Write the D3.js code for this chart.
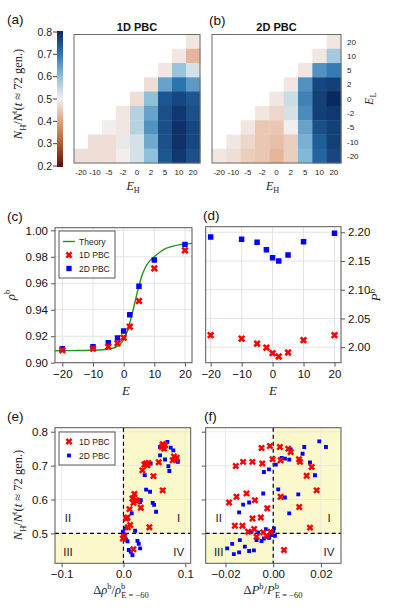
<!DOCTYPE html>
<html><head><meta charset="utf-8">
<script src="https://cdn.jsdelivr.net/npm/d3@7"></script>
<style>body{margin:0;background:#fff}svg{display:block}</style>
</head><body><svg id="c" width="397" height="609"></svg>
<script>
// ---------------- data ----------------
const EH = [-20,-10,-5,-2,0,2,5,10,20];
const EL = [20,10,5,2,0,-2,-5,-10,-20];
const EHLabels = ["-20","-10","-5","-2","0","2","5","10","20"];
const ELLabels = ["20","10","5","2","0","-2","-5","-10","-20"];
const n = null;
const heat1D = [
 [n,n,n,n,n,n,n,n,0.49],
 [n,n,n,n,n,n,n,0.49,0.43],
 [n,n,n,n,n,n,0.49,0.59,0.53],
 [n,n,n,n,n,0.48,0.64,0.70,0.65],
 [n,n,n,n,0.48,0.60,0.74,0.76,0.74],
 [n,n,n,0.49,0.56,0.64,0.75,0.78,0.75],
 [n,n,0.50,0.49,0.56,0.66,0.75,0.79,0.76],
 [n,0.48,0.48,0.51,0.53,0.63,0.75,0.79,0.76],
 [0.48,0.48,0.48,0.50,0.53,0.60,0.74,0.78,0.75]
];
const heat2D = [
 [n,n,n,n,n,n,n,n,0.49],
 [n,n,n,n,n,n,n,0.49,0.58],
 [n,n,n,n,n,n,0.49,0.66,0.69],
 [n,n,n,n,n,0.49,0.66,0.76,0.77],
 [n,n,n,n,0.49,0.54,0.68,0.77,0.80],
 [n,n,n,0.49,0.47,0.53,0.67,0.77,0.78],
 [n,n,0.49,0.45,0.45,0.50,0.64,0.75,0.77],
 [n,0.49,0.47,0.45,0.44,0.46,0.62,0.73,0.77],
 [0.49,0.48,0.46,0.45,0.43,0.46,0.61,0.72,0.76]
];
const cbTicks = [0.2,0.3,0.4,0.5,0.6,0.7,0.8];

const Evals = [-20,-10,-5,-2,0,2,5,10,20];
const rho1D = [0.9094,0.9106,0.9121,0.9147,0.9189,0.9272,0.9466,0.9713,0.9849];
const rho2D = [0.9106,0.9121,0.9151,0.9187,0.9240,0.9363,0.9577,0.9776,0.9894];
const theoryE   = [-22.4,-20,-15,-10,-6,-4,-2,-1,0,1,2,3,4,5,6,7,8,10,12,14,16,18,20,22.4];
const theoryRho = [0.9090,0.9091,0.9092,0.9094,0.9100,0.9106,0.9125,0.9145,0.9175,0.9225,0.9300,0.9390,0.9490,0.9580,0.9660,0.9715,0.9755,0.9800,0.9838,0.9865,0.9880,0.9890,0.9896,0.9902];
const P1D = [2.0209,2.0150,2.0063,1.9993,1.9896,1.9837,1.9907,2.0122,2.0209];
const P2D = [2.1918,2.1878,2.1826,2.1697,2.1558,2.1500,2.1605,2.1837,2.1983];

const e1Dx = [0.0645,0.0618,0.0672,0.0656,0.0634,0.0817,0.085,0.0796,0.086,0.057,0.0366,0.0403,0.0339,0.0387,0.0306,0.0484,0.0634,0.0177,0.0145,0.0204,0.0161,0.0226,0.028,0.0097,0.0065,0.0043,0.0108,0.007,0.0419,-0.001,0.001,0.0161];
const e1Dy = [0.757,0.755,0.760,0.750,0.763,0.727,0.718,0.716,0.7235,0.71,0.706,0.708,0.703,0.701,0.686,0.669,0.627,0.616,0.603,0.598,0.590,0.596,0.5755,0.5716,0.547,0.544,0.5245,0.518,0.518,0.485,0.492,0.453];
const e2Dx = [0.071,0.0591,0.0763,0.0806,0.0591,0.0672,0.0726,0.0742,0.085,0.088,0.044,0.0344,0.0366,0.043,0.0473,0.0495,0.0527,0.028,0.0269,0.0188,0.0134,0.004,-0.001,0,0.002,0.004,0.0065,0.0226,0.0247,0.0269,0.0086,0.0118,0.0145];
const e2Dy = [0.77,0.755,0.753,0.745,0.730,0.718,0.698,0.684,0.718,0.711,0.706,0.672,0.629,0.623,0.590,0.584,0.564,0.598,0.592,0.508,0.559,0.515,0.505,0.498,0.49,0.482,0.477,0.478,0.469,0.456,0.451,0.446,0.436];
const f1Dx = [-0.0014,-0.0049,0.0028,0.0063,0.0073,-0.0046,-0.0087,-0.0126,-0.0157,-0.0003,0.0031,0.0108,0.0112,0.0161,0.014,0.0182,-0.0112,-0.0154,-0.0185,-0.0077,0.0031,0.0109,-0.0025,-0.0087,-0.0052,-0.0161,-0.0129,-0.008,-0.0105,-0.0042,-0.0011,-0.007,-0.0028,0.0154,0.0045];
const f1Dy = [0.758,0.752,0.755,0.75,0.740,0.706,0.711,0.711,0.699,0.719,0.716,0.719,0.711,0.696,0.670,0.627,0.618,0.608,0.591,0.598,0.608,0.578,0.574,0.544,0.547,0.5225,0.5225,0.513,0.505,0.503,0.505,0.490,0.493,0.517,0.451];
const f2Dx = [0.0193,0.0221,0.0073,0.013,0.0123,0.0049,0.0067,0.0035,0.0011,-0.0018,-0.0039,0.0154,0.0175,0.0021,0.0049,0.0105,-0.0042,-0.0101,-0.0126,-0.0143,0.0067,-0.0031,-0.0063,-0.0091,-0.007,-0.0049,-0.0039,-0.0024,-0.0007,0,0.0003,0.0007,-0.0017,-0.014,-0.0172,-0.0193,-0.0119,-0.0143,-0.0165,-0.0101,-0.0081];
const f2Dy = [0.7716,0.755,0.748,0.755,0.735,0.7206,0.7176,0.7225,0.703,0.689,0.681,0.709,0.6716,0.630,0.606,0.615,0.6176,0.591,0.585,0.562,0.559,0.5127,0.503,0.505,0.480,0.4775,0.485,0.490,0.495,0.507,0.515,0.493,0.487,0.480,0.469,0.456,0.461,0.444,0.439,0.448,0.450];

const cTicksX = [-20,-10,0,10,20];
const cTicksY = [0.90,0.92,0.94,0.96,0.98,1.00];
const dTicksY = [2.00,2.05,2.10,2.15,2.20];
const eTicksX = [-0.1,0.0,0.1];
const eTicksY = [0.5,0.6,0.7,0.8];
const fTicksX = [-0.02,0.0,0.02];

// ---------------- style ----------------
const SANS = '"Liberation Sans", Arial, Helvetica, sans-serif';
const SERIF = '"Liberation Serif", "DejaVu Serif", serif';
const RED = '#ff0000', BLUE = '#0000ff', GREEN = '#1e961e';
const FRAME = '#555', GRID = '#e4e4e4', SHADE = '#fbf8cc';
const TICKFS = 11.5;

const svg = d3.select('#c');
svg.append('rect').attr('width',397).attr('height',609).attr('fill','#fff');

const cmap = d3.scaleLinear()
  .domain([0.2,0.3,0.4,0.5,0.6,0.7,0.8])
  .range(['#5a0b0c','#b05a2c','#dea07a','#f3eeec','#8ec0da','#2a74b0','#0a2960'])
  .interpolate(d3.interpolateRgb).clamp(true);

function math(text, parts, fs){
  let cur = 0;
  parts.forEach(p=>{
    const target = p.s==='sup' ? -0.42*fs : p.s==='sub' ? 0.28*fs : 0;
    const ts = text.append('tspan').text(p.t).attr('dy', target-cur);
    if (p.dx!=null) ts.attr('dx', p.dx);
    ts.style('font-style', p.i ? 'italic':'normal')
      .style('font-size', (p.s ? fs*0.68 : fs)+'px');
    cur = target;
  });
}
function label(x,y,str,opts={}){
  return svg.append('text').attr('x',x).attr('y',y).text(str)
    .style('font-family', opts.family||SANS).style('font-size',(opts.size||11)+'px')
    .style('font-weight', opts.weight||'normal')
    .attr('text-anchor', opts.anchor||'start').attr('fill', opts.fill||'#111');
}
function frame(x0,y0,x1,y1,col){
  svg.append('rect').attr('x',x0).attr('y',y0).attr('width',x1-x0).attr('height',y1-y0)
    .attr('fill','none').attr('stroke',col||FRAME).attr('stroke-width',1);
}
const sqPath = s => d3.symbol(d3.symbolSquare, s)();
const xPath = s => d3.symbol(d3.symbolCross, s)();

// ---------------- heatmaps ----------------
function heatmap(x0,x1,data,title,rightAxis){
  const xs = d3.scaleBand().domain(EH).range([x0,x1]);
  const ys = d3.scaleBand().domain(EL).range([34.5,163]);
  const g = svg.append('g');
  data.forEach((row,i)=>row.forEach((v,j)=>{
    if (v==null) return;
    g.append('rect').attr('x',xs(EH[j])).attr('y',ys(EL[i]))
      .attr('width',xs.bandwidth()+0.4).attr('height',ys.bandwidth()+0.4)
      .attr('fill',cmap(v));
  }));
  frame(x0,34.5,x1,163,'#6a6a6a');
  EH.forEach((e,j)=>label(xs(e)+xs.bandwidth()/2,175,EHLabels[j],{size:8,anchor:'middle',fill:'#222'}));
  label((x0+x1)/2,31,title,{size:11,weight:'bold',anchor:'middle'});
  const t = svg.append('text').attr('x',(x0+x1)/2-4).attr('y',190).attr('text-anchor','middle')
    .style('font-family',SERIF).attr('fill','#222');
  math(t,[{t:'E',i:true},{t:'H',s:'sub'}],12);
  if (rightAxis){
    EL.forEach((e,i)=>{
      label(x1+6,ys(e)+ys.bandwidth()/2+3,ELLabels[i],{size:8,fill:'#222'});
    });
    const tl = svg.append('text').attr('transform',`translate(373,${(34.5+163)/2}) rotate(-90)`)
      .attr('text-anchor','middle').style('font-family',SERIF).attr('fill','#222');
    math(tl,[{t:'E',i:true},{t:'L',s:'sub'}],12);
  }
}
heatmap(74,200,heat1D,'1D PBC',false);
heatmap(212,341,heat2D,'2D PBC',true);

// colorbar
const cbScale = d3.scaleLinear().domain([0.2,0.8]).range([166,32]);
const grad = svg.append('defs').append('linearGradient').attr('id','cbg')
  .attr('x1',0).attr('y1',1).attr('x2',0).attr('y2',0);
d3.range(0,1.0001,0.05).forEach(f=>{
  grad.append('stop').attr('offset',f).attr('stop-color',cmap(0.2+0.6*f));
});
svg.append('rect').attr('x',57).attr('y',31).attr('width',6).attr('height',136).attr('fill','url(#cbg)');
cbTicks.forEach(v=>{
  svg.append('line').attr('x1',53).attr('x2',57).attr('y1',cbScale(v)).attr('y2',cbScale(v)).attr('stroke','#444');
  label(52,cbScale(v)+3.8,d3.format('.1f')(v),{size:10.5,anchor:'end',fill:'#222'});
});
function nLabel(cx,cy){
  const t = svg.append('text').attr('transform',`translate(${cx},${cy}) rotate(-90)`)
    .attr('text-anchor','middle').style('font-family',SERIF).attr('fill','#222');
  math(t,[{t:'N',i:true},{t:'H',s:'sub'},{t:'/'},{t:'N',i:true},{t:'t',s:'sup'},{t:'('},{t:'t',i:true},{t:' ≈ 72 gen.)'}],12.5);
}
nLabel(22,94);

// ---------------- axes helper ----------------
function axes(x,y,xt,yt,xfmt,yfmt,side,yLabels=true){
  const [x0,x1] = x.range(), [y0,y1] = y.range();
  const g = svg.append('g');
  xt.forEach(v=>g.append('line').attr('x1',x(v)).attr('x2',x(v)).attr('y1',y1).attr('y2',y0).attr('stroke',GRID));
  yt.forEach(v=>g.append('line').attr('x1',x0).attr('x2',x1).attr('y1',y(v)).attr('y2',y(v)).attr('stroke',GRID));
  const ax = svg.append('g').attr('transform',`translate(0,${y0})`).call(d3.axisBottom(x).tickValues(xt).tickFormat(xfmt).tickSize(4).tickPadding(3));
  let ay;
  if (side==='right') ay = svg.append('g').attr('transform',`translate(${x1},0)`).call(d3.axisRight(y).tickValues(yt).tickFormat(yLabels?yfmt:()=> '').tickSize(4).tickPadding(3));
  else ay = svg.append('g').attr('transform',`translate(${x0},0)`).call(d3.axisLeft(y).tickValues(yt).tickFormat(yLabels?yfmt:()=> '').tickSize(4).tickPadding(3));
  [ax,ay].forEach(a=>{
    a.select('.domain').remove();
    a.selectAll('line').attr('stroke',FRAME);
    a.selectAll('text').style('font-family',SANS).style('font-size',TICKFS+'px').attr('fill','#111');
  });
  return g;
}
function clip(id,x,y){
  svg.append('clipPath').attr('id',id).append('rect')
    .attr('x',x.range()[0]).attr('y',y.range()[1]).attr('width',x.range()[1]-x.range()[0]).attr('height',y.range()[0]-y.range()[1]);
}

// ---------------- (c) ----------------
const xC = d3.scaleLinear().domain([-22.4,22.3]).range([55,192]);
const yC = d3.scaleLinear().domain([0.90,1.002]).range([362.7,227.7]);
axes(xC,yC,cTicksX,cTicksY,d3.format('d'),d3.format('.2f'),'left');
clip('clipC',xC,yC);
const gC = svg.append('g').attr('clip-path','url(#clipC)');
gC.append('path').datum(theoryE.map((e,i)=>[e,theoryRho[i]]))
  .attr('d',d3.line().x(d=>xC(d[0])).y(d=>yC(d[1])).curve(d3.curveMonotoneX))
  .attr('fill','none').attr('stroke',GREEN).attr('stroke-width',1.4);
Evals.forEach((e,i)=>gC.append('path').attr('d',sqPath(30)).attr('transform',`translate(${xC(e)},${yC(rho2D[i])})`).attr('fill',BLUE));
Evals.forEach((e,i)=>gC.append('path').attr('d',xPath(34)).attr('transform',`translate(${xC(e)},${yC(rho1D[i])}) rotate(45)`).attr('fill',RED));
frame(55,227.7,192,362.7);
// legend
svg.append('rect').attr('x',59).attr('y',231).attr('width',56).attr('height',47).attr('fill','#fff').attr('stroke','#333').attr('stroke-width',0.8);
svg.append('line').attr('x1',63).attr('x2',75).attr('y1',241.5).attr('y2',241.5).attr('stroke',GREEN).attr('stroke-width',1.4);
svg.append('path').attr('d',xPath(30)).attr('transform','translate(69,255) rotate(45)').attr('fill',RED);
svg.append('path').attr('d',sqPath(28)).attr('transform','translate(69,268.5)').attr('fill',BLUE);
label(79,244.5,'Theory',{size:8.5,fill:'#222'});
label(79,258,'1D PBC',{size:8.5,fill:'#222'});
label(79,271.5,'2D PBC',{size:8.5,fill:'#222'});
const tcx = svg.append('text').attr('x',126).attr('y',395).attr('text-anchor','middle').style('font-family',SERIF).attr('fill','#222');
math(tcx,[{t:'E',i:true}],13);
const tcy = svg.append('text').attr('transform','translate(15,295) rotate(-90)').attr('text-anchor','middle').style('font-family',SERIF).attr('fill','#222');
math(tcy,[{t:'ρ',i:true},{t:'b',s:'sup'}],13);

// ---------------- (d) ----------------
const xD = d3.scaleLinear().domain([-21.6,22.1]).range([205.7,341]);
const yD = d3.scaleLinear().domain([1.973,2.2097]).range([362.7,226.7]);
axes(xD,yD,cTicksX,dTicksY,d3.format('d'),d3.format('.2f'),'right');
clip('clipD',xD,yD);
const gD = svg.append('g').attr('clip-path','url(#clipD)');
Evals.forEach((e,i)=>gD.append('path').attr('d',sqPath(30)).attr('transform',`translate(${xD(e)},${yD(P2D[i])})`).attr('fill',BLUE));
Evals.forEach((e,i)=>gD.append('path').attr('d',xPath(34)).attr('transform',`translate(${xD(e)},${yD(P1D[i])}) rotate(45)`).attr('fill',RED));
frame(205.7,226.7,341,362.7);
const tdx = svg.append('text').attr('x',273).attr('y',395).attr('text-anchor','middle').style('font-family',SERIF).attr('fill','#222');
math(tdx,[{t:'E',i:true}],13);
const tdy = svg.append('text').attr('transform','translate(380,295) rotate(-90)').attr('text-anchor','middle').style('font-family',SERIF).attr('fill','#222');
math(tdy,[{t:'P',i:true},{t:'b',s:'sup'}],13);

// ---------------- (e), (f) ----------------
const yE = d3.scaleLinear().domain([0.4118,0.8118]).range([563.3,427.7]);
function scatterPanel(id,x,xt,xfmt,xs1,ys1,xs2,ys2,yLabels){
  const [x0,x1] = x.range(), [y0,y1] = yE.range();
  svg.append('rect').attr('x',x(0)).attr('y',y1).attr('width',x1-x(0)).attr('height',yE(0.5)-y1).attr('fill',SHADE);
  svg.append('rect').attr('x',x0).attr('y',yE(0.5)).attr('width',x(0)-x0).attr('height',y0-yE(0.5)).attr('fill',SHADE);
  const g = axes(x,yE,xt,eTicksY,xfmt,d3.format('.1f'),'left',yLabels);
  g.attr('opacity',0.7);
  svg.append('line').attr('x1',x(0)).attr('x2',x(0)).attr('y1',y1).attr('y2',y0).attr('stroke','#000').attr('stroke-width',1.2).attr('stroke-dasharray','4,3');
  svg.append('line').attr('x1',x0).attr('x2',x1).attr('y1',yE(0.5)).attr('y2',yE(0.5)).attr('stroke','#000').attr('stroke-width',1.2).attr('stroke-dasharray','4,3');
  clip(id,x,yE);
  const gp = svg.append('g').attr('clip-path',`url(#${id})`);
  xs2.forEach((v,i)=>gp.append('path').attr('d',sqPath(15)).attr('transform',`translate(${x(v)},${yE(ys2[i])})`).attr('fill',BLUE));
  xs1.forEach((v,i)=>gp.append('path').attr('d',xPath(30)).attr('transform',`translate(${x(v)},${yE(ys1[i])}) rotate(45)`).attr('fill',RED));
  frame(x0,y1,x1,y0);
  const ql = x0 + 13, qr = x1 - 12;
  label(ql,521.5,'II',{size:11.5,anchor:'middle',fill:'#222'});
  label(qr,521.5,'I',{size:11.5,anchor:'middle',fill:'#222'});
  label(ql,556,'III',{size:11.5,anchor:'middle',fill:'#222'});
  label(qr,556,'IV',{size:11.5,anchor:'middle',fill:'#222'});
}
const xE = d3.scaleLinear().domain([-0.1107,0.1087]).range([55,190.7]);
scatterPanel('clipE',xE,eTicksX,d3.format('.1f'),e1Dx,e1Dy,e2Dx,e2Dy,true);
const xF = d3.scaleLinear().domain([-0.0283,0.0284]).range([205.7,341]);
scatterPanel('clipF',xF,fTicksX,d3.format('.2f'),f1Dx,f1Dy,f2Dx,f2Dy,false);

// legend (e)
svg.append('rect').attr('x',59).attr('y',432).attr('width',56).attr('height',33).attr('fill','#fff').attr('stroke','#333').attr('stroke-width',0.8);
svg.append('path').attr('d',xPath(30)).attr('transform','translate(69,441.5) rotate(45)').attr('fill',RED);
svg.append('path').attr('d',sqPath(15)).attr('transform','translate(69,455.5)').attr('fill',BLUE);
label(79,444.5,'1D PBC',{size:8.5,fill:'#222'});
label(79,458.5,'2D PBC',{size:8.5,fill:'#222'});

nLabel(22,495);
const tex = svg.append('text').attr('x',121).attr('y',594).attr('text-anchor','middle').style('font-family',SERIF).attr('fill','#222');
math(tex,[{t:'Δ'},{t:'ρ',i:true},{t:'b',s:'sup'},{t:'/'},{t:'ρ',i:true},{t:'b',s:'sup'},{t:'E = −60',s:'sub',dx:-4}],12.5);
const tfx = svg.append('text').attr('x',273).attr('y',594).attr('text-anchor','middle').style('font-family',SERIF).attr('fill','#222');
math(tfx,[{t:'Δ'},{t:'P',i:true},{t:'b',s:'sup'},{t:'/'},{t:'P',i:true},{t:'b',s:'sup'},{t:'E = −60',s:'sub',dx:-4}],12.5);

// panel labels
label(7,24,'(a)',{size:13.5});
label(209,25,'(b)',{size:13.5});
label(7,221,'(c)',{size:13.5});
label(203,220,'(d)',{size:13.5});
label(7,421,'(e)',{size:13.5});
label(204,421,'(f)',{size:13.5});
</script></body></html>
